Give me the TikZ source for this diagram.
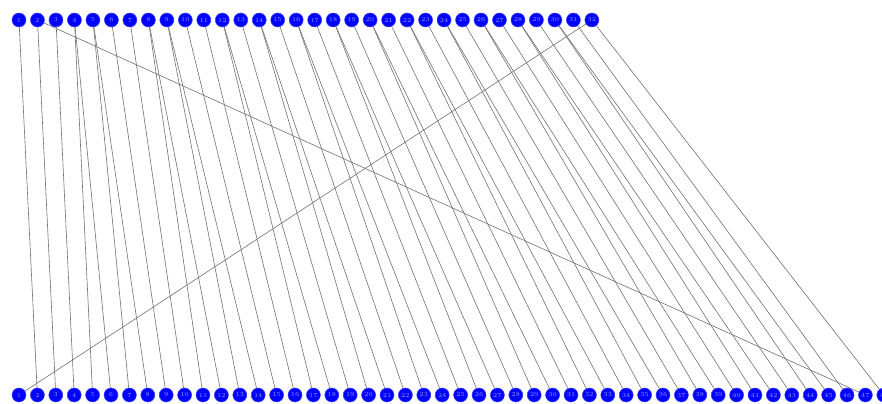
\documentclass[tikz,border=0pt]{standalone}
\usetikzlibrary{backgrounds}
\tikzset{
  vtx/.style={circle, fill=blue, draw=blue!75!white, line width=0.3pt, minimum size=2.8mm, inner sep=0pt, text=white!60!blue, font=\fontsize{3.5}{4}\selectfont},
  link/.style={draw=black!55, line width=0.35pt}
}

\begin{document}
\begin{tikzpicture}[x=0.02cm, y=-0.02cm]
\useasboundingbox (0,0) rectangle (882,404);
% upper row
\foreach \i in {1,...,32}
  \node[vtx] (t\i) at ({19+18.48*(\i-1)},20) {\i};
% lower row
\foreach \j in {1,...,48}
  \node[vtx] (b\j) at ({19+18.4*(\j-1)},395) {\j};
% edges
\begin{scope}[on background layer]
\foreach \s/\e in {1/2, 2/3, 2/47, 3/4, 4/5, 4/6, 5/7, 5/8, 6/9, 7/10, 8/11, 8/12,
    9/13, 9/14, 10/15, 11/16, 12/17, 12/18, 13/19, 14/20, 14/21, 15/22,
    16/23, 16/24, 17/25, 18/26, 18/27, 19/28, 20/29, 20/30, 21/31, 22/32,
    22/33, 23/34, 24/35, 24/36, 25/37, 26/38, 26/39, 27/40, 28/41, 28/42,
    29/43, 30/44, 30/45, 31/46, 32/1, 32/48}
  \draw[link] (t\s) -- (b\e);
\end{scope}
\end{tikzpicture}
\end{document}
